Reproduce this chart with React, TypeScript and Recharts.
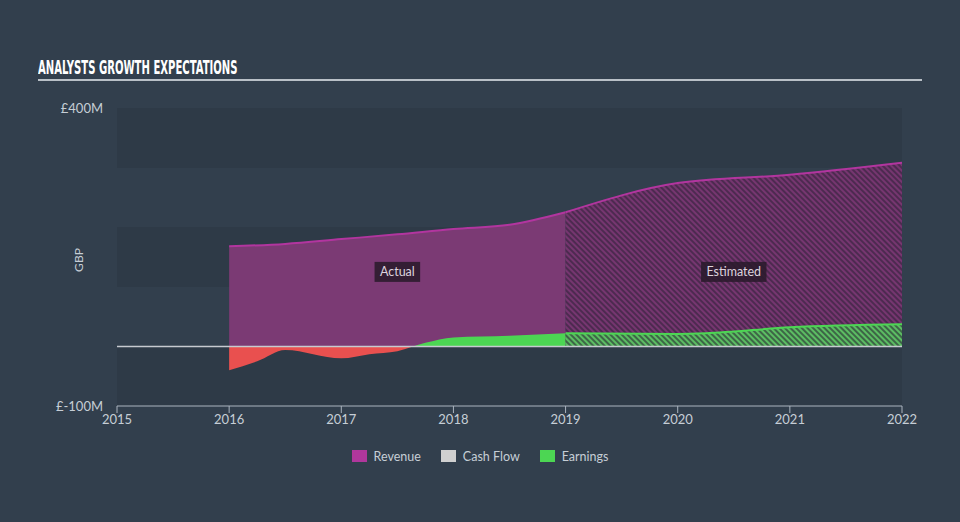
import React from 'react';
import {
  ComposedChart,
  Area,
  XAxis,
  YAxis,
  CartesianGrid,
  ReferenceLine,
  ReferenceDot,
} from 'recharts';

// axis setup
const yearTicks = [2015, 2016, 2017, 2018, 2019, 2020, 2021, 2022];
const valueTicks = [-100, 400];
const bandLevels = [400, 300, 200, 100, 0, -100];

// revenue, £M
const revenueActualYears = [2016, 2016.5, 2017, 2017.5, 2018, 2018.5, 2019];
const revenueActual = [168, 172, 180, 188, 197, 204, 225];
const revenueEstYears = [2019, 2020, 2021, 2022];
const revenueEst = [225, 274, 288, 308];

// earnings, £M
const earningsActualYears = [2016, 2016.25, 2016.5, 2017, 2017.25, 2017.5, 2017.75, 2018, 2018.5, 2019];
const earningsActual = [-40, -25, -6, -20, -13, -8, 6, 15, 18, 22];
const earningsEstYears = [2019, 2020, 2020.25, 2021, 2022];
const earningsEst = [22, 21, 22, 32, 37];

const phases = [
  { name: 'Actual', from: 2016, to: 2019, level: 125 },
  { name: 'Estimated', from: 2019, to: 2022, level: 125 },
];

const legendItems = [
  { name: 'Revenue', color: '#b0379c' },
  { name: 'Cash Flow', color: '#d0d0d0' },
  { name: 'Earnings', color: '#4cd653' },
];

const COLORS = {
  bg: '#323f4d',
  band: '#2e3a47',
  axis: '#aab4bf',
  tick: '#c6ced6',
  revFill: '#7b3a74',
  revLine: '#b2359f',
  green: '#4cd653',
  red: '#e9504f',
  zero: '#c6cad0',
};

// merge the separate series into one table keyed by year
const buildTable = () => {
  const series: [string, number[], number[]][] = [
    ['revenueActual', revenueActualYears, revenueActual],
    ['revenueEst', revenueEstYears, revenueEst],
    ['earningsActual', earningsActualYears, earningsActual],
    ['earningsEst', earningsEstYears, earningsEst],
  ];
  const xs = Array.from(new Set(series.flatMap(([, ys]) => ys))).sort((a, b) => a - b);
  return xs.map((x) => {
    const row: Record<string, number> = { x };
    series.forEach(([key, ys, vals]) => {
      const i = ys.indexOf(x);
      if (i >= 0) row[key] = vals[i];
    });
    return row;
  });
};

const data = buildTable();

// where zero falls inside the actual earnings area (for red/green split)
const eMax = Math.max(0, ...earningsActual);
const eMin = Math.min(0, ...earningsActual);
const zeroOffset = eMax / (eMax - eMin);

const fontFamily = "Lato, 'Open Sans', sans-serif";

const PhaseTag = (props: any) => {
  const { cx, cy, text } = props;
  const w = text.length * 6.6 + 6;
  return (
    <g>
      <rect x={cx - w / 2} y={cy - 10} width={w} height={20} fill="#2a1a2b" fillOpacity={0.88} />
      <text x={cx} y={cy + 4.5} textAnchor="middle" fill="#ddd3de" fontSize={12.5} fontFamily={fontFamily}>
        {text}
      </text>
    </g>
  );
};

const GbpLabel = (props: any) => {
  const { viewBox } = props;
  const x = viewBox.x + 21;
  const y = viewBox.y + viewBox.height / 2 + 3;
  return (
    <text x={x} y={y} transform={`rotate(-90 ${x} ${y})`} textAnchor="middle" dominantBaseline="central" fill={COLORS.tick} fontSize={12} fontFamily={fontFamily}>
      GBP
    </text>
  );
};

export default function App() {
  return (
    <div style={{ position: 'absolute', left: 0, top: 0, width: 960, height: 522, background: COLORS.bg, fontFamily, overflow: 'hidden' }}>
      <div
        style={{
          position: 'absolute',
          left: 38,
          top: 56,
          width: 884,
          height: 23,
          borderBottom: '2px solid #b9c0c7',
        }}
      >
        <span
          style={{
            display: 'inline-block',
            color: '#ffffff',
            fontFamily: "'DejaVu Sans Condensed', 'DejaVu Sans', sans-serif",
            fontWeight: 700,
            fontSize: 20,
            lineHeight: '22px',
            transform: 'scaleX(0.56)',
            transformOrigin: 'left center',
            whiteSpace: 'nowrap',
          }}
        >
          ANALYSTS GROWTH EXPECTATIONS
        </span>
      </div>

      <ComposedChart
        width={960}
        height={522}
        data={data}
        margin={{ top: 108, right: 58, bottom: 86, left: 57 }}
        style={{ position: 'absolute', left: 0, top: 0 }}
      >
        <defs>
          <linearGradient id="earnSplit" x1="0" y1="0" x2="0" y2="1">
            <stop offset={zeroOffset} stopColor={COLORS.green} />
            <stop offset={zeroOffset} stopColor={COLORS.red} />
          </linearGradient>
          <pattern id="hatchRev" width="4" height="4" patternUnits="userSpaceOnUse" patternTransform="rotate(-45)">
            <rect width="4" height="4" fill="#4d2a50" />
            <rect width="2" height="4" fill="#763670" />
          </pattern>
          <pattern id="hatchEarn" width="4" height="4" patternUnits="userSpaceOnUse" patternTransform="rotate(-45)">
            <rect width="4" height="4" fill="#3d6646" />
            <rect width="2" height="4" fill="#5cbd63" />
          </pattern>
        </defs>

        <CartesianGrid
          vertical={false}
          stroke="none"
          horizontalValues={bandLevels}
          horizontalFill={[COLORS.band, 'transparent']}
        />

        <XAxis
          dataKey="x"
          type="number"
          domain={[2015, 2022]}
          ticks={yearTicks}
          stroke={COLORS.axis}
          tickSize={7}
          tick={{ fill: COLORS.tick, fontSize: 13, fontFamily }}
          height={30}
        />
        <YAxis
          type="number"
          domain={[-100, 400]}
          ticks={valueTicks}
          width={60}
          axisLine={false}
          tickLine={false}
          tickMargin={8}
          tickFormatter={(v: number) => `£${v}M`}
          tick={{ fill: COLORS.tick, fontSize: 13, fontFamily }}
          label={<GbpLabel />}
        />

        <Area
          type="monotone"
          dataKey="revenueActual"
          stroke={COLORS.revLine}
          strokeWidth={2}
          fill={COLORS.revFill}
          fillOpacity={1}
          baseValue={0}
          connectNulls
          isAnimationActive={false}
        />
        <Area
          type="monotone"
          dataKey="revenueEst"
          stroke={COLORS.revLine}
          strokeWidth={2}
          fill="url(#hatchRev)"
          fillOpacity={1}
          baseValue={0}
          connectNulls
          isAnimationActive={false}
        />

        <ReferenceLine y={0} stroke={COLORS.zero} strokeWidth={1.5} />

        <Area
          type="monotone"
          dataKey="earningsActual"
          stroke="none"
          fill="url(#earnSplit)"
          fillOpacity={1}
          baseValue={0}
          connectNulls
          isAnimationActive={false}
        />
        <Area
          type="monotone"
          dataKey="earningsEst"
          stroke={COLORS.green}
          strokeWidth={2}
          fill="url(#hatchEarn)"
          fillOpacity={1}
          baseValue={0}
          connectNulls
          isAnimationActive={false}
        />

        {phases.map((p) => (
          <ReferenceDot
            key={p.name}
            x={(p.from + p.to) / 2}
            y={p.level}
            r={0}
            shape={(props: any) => <PhaseTag {...props} text={p.name} />}
          />
        ))}
      </ComposedChart>

      {/* legend */}
      <div
        style={{
          position: 'absolute',
          left: 0,
          top: 448,
          width: 960,
          display: 'flex',
          justifyContent: 'center',
          gap: 20,
          fontSize: 12.5,
          color: COLORS.tick,
        }}
      >
        {legendItems.map((item) => (
          <div key={item.name} style={{ display: 'flex', alignItems: 'center', height: 16 }}>
            <span style={{ display: 'inline-block', width: 15, height: 12, background: item.color, marginRight: 7 }} />
            {item.name}
          </div>
        ))}
      </div>
    </div>
  );
}
